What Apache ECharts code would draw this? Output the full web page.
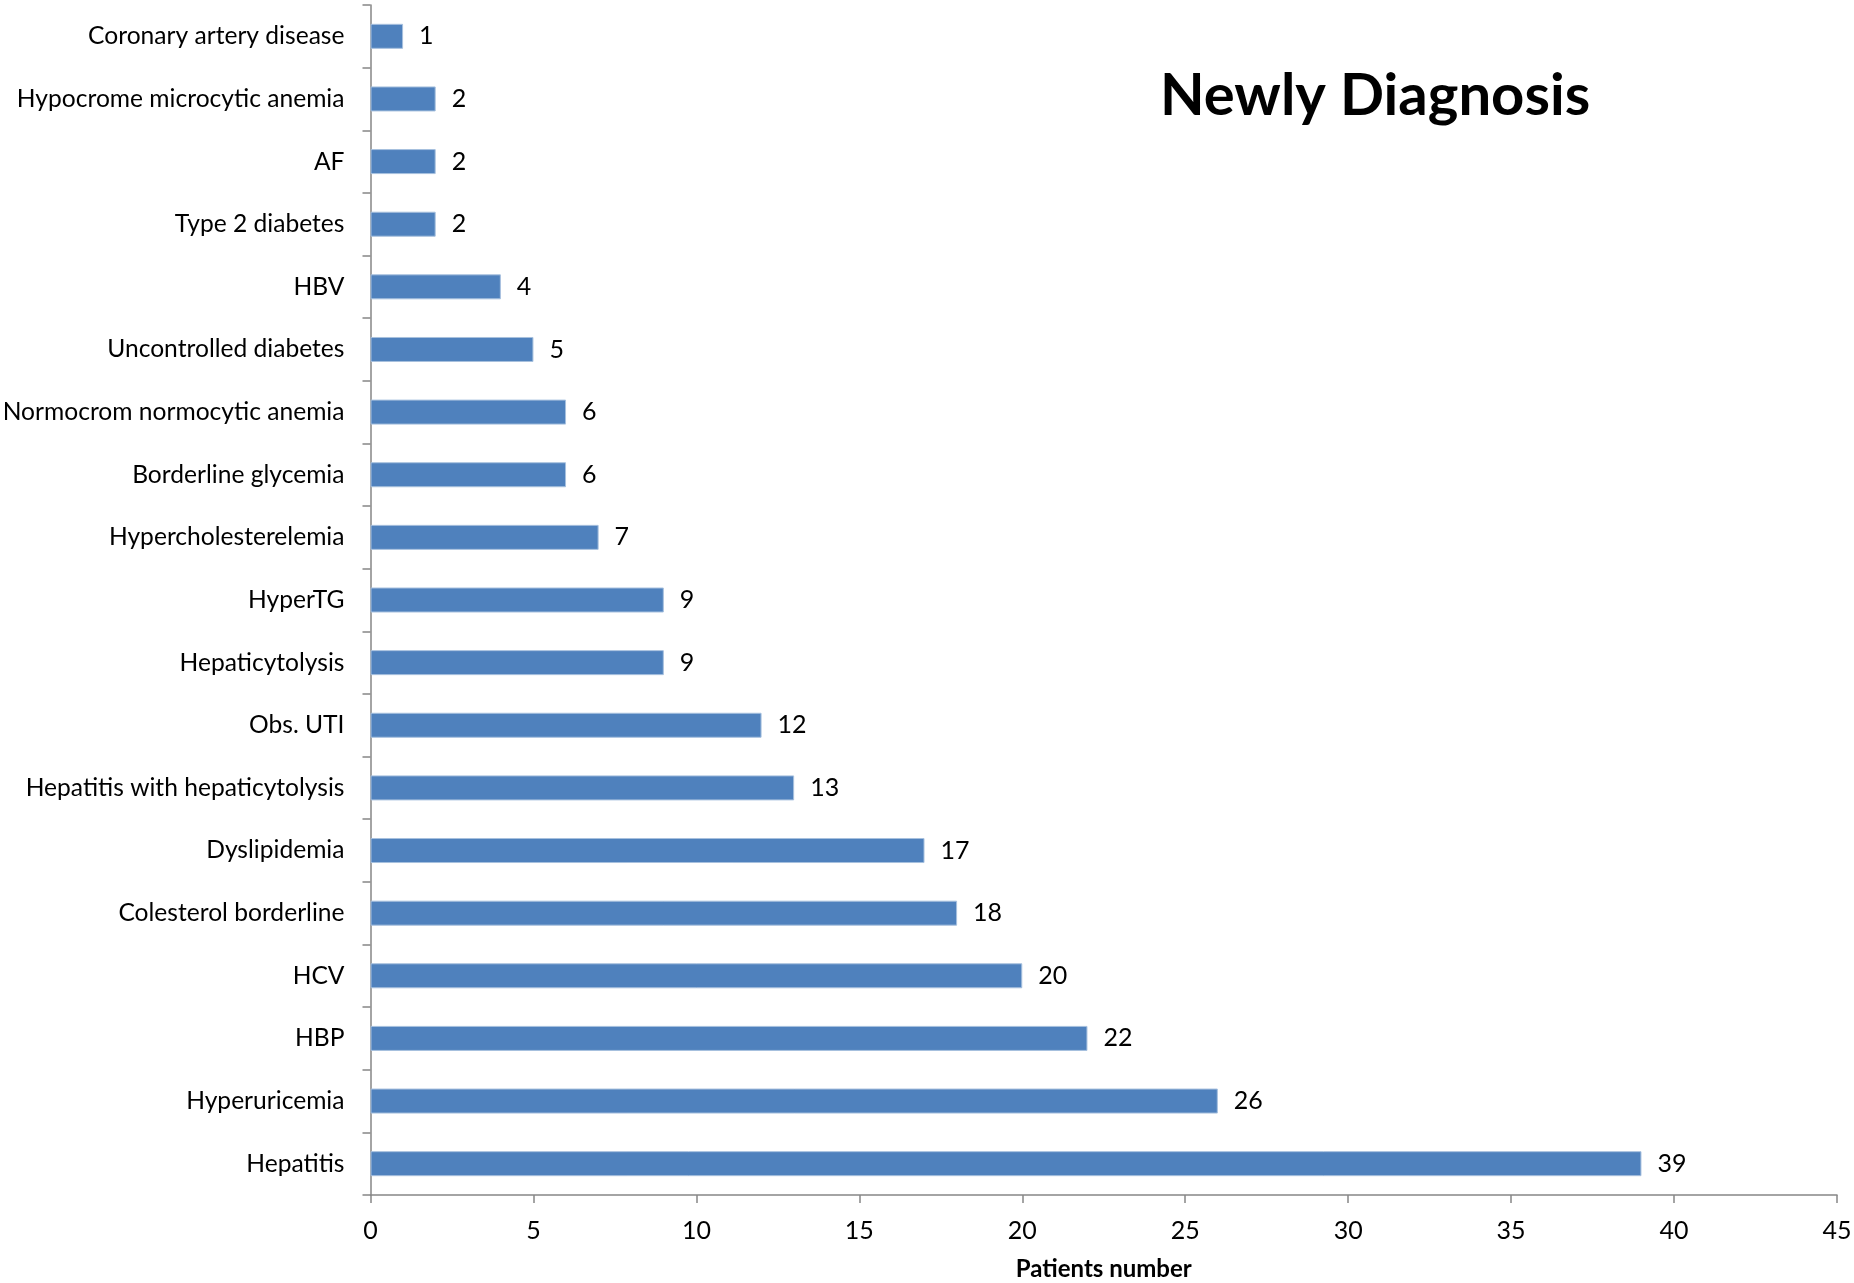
<!DOCTYPE html>
<html><head><meta charset="utf-8">
<script src="https://cdn.jsdelivr.net/npm/echarts@6/dist/echarts.min.js"></script>
<style>html,body{margin:0;padding:0;background:#fff}#c{width:1854px;height:1283px}</style>
</head><body><div id="c"></div>
<script>
const categories = ["Hepatitis","Hyperuricemia","HBP","HCV","Colesterol borderline","Dyslipidemia","Hepatitis with hepaticytolysis","Obs. UTI","Hepaticytolysis","HyperTG","Hypercholesterelemia","Borderline glycemia","Normocrom normocytic anemia","Uncontrolled diabetes","HBV","Type 2 diabetes","AF","Hypocrome microcytic anemia","Coronary artery disease"];
const values = [39,26,22,20,18,17,13,12,9,9,7,6,6,5,4,2,2,2,1];
const xTicks = [0,5,10,15,20,25,30,35,40,45];
const titleText = "Newly Diagnosis";
const xName = "Patients number";
const FONT = "Lato";
const chart = echarts.init(document.getElementById('c'));
chart.setOption({
  animation:false,
  backgroundColor:'#fff',
  title:{text:titleText,left:1155,top:62,textStyle:{fontFamily:FONT,fontWeight:'bold',fontSize:58,color:'#000'}},
  grid:{left:370.5,right:17,top:5,bottom:88,containLabel:false,outerBoundsMode:'none'},
  xAxis:{type:'value',min:0,max:45,interval:5,
    name:xName,nameLocation:'middle',nameGap:62,
    nameTextStyle:{fontFamily:FONT,fontWeight:'bold',fontSize:24,color:'#000'},
    axisLine:{show:true,lineStyle:{color:'#868686',width:1.5}},
    axisTick:{show:true,length:8,lineStyle:{color:'#868686',width:1.5}},
    axisLabel:{fontFamily:FONT,fontSize:25,color:'#000',margin:23,formatter:v=>xTicks.includes(v)?String(v):''},
    splitLine:{show:false}},
  yAxis:{type:'category',data:categories,
    axisLine:{show:true,lineStyle:{color:'#868686',width:1.5}},
    axisTick:{show:true,length:8,lineStyle:{color:'#868686',width:1.5}},
    axisLabel:{fontFamily:FONT,fontSize:24.6,color:'#000',margin:26}},
  series:[{type:'bar',data:values,barWidth:25,
    itemStyle:{color:'#4F81BD',borderColor:'#A7C0DE',borderWidth:1},
    label:{show:true,position:'right',distance:16,fontFamily:FONT,fontSize:25,color:'#000'}}]
});
</script></body></html>
